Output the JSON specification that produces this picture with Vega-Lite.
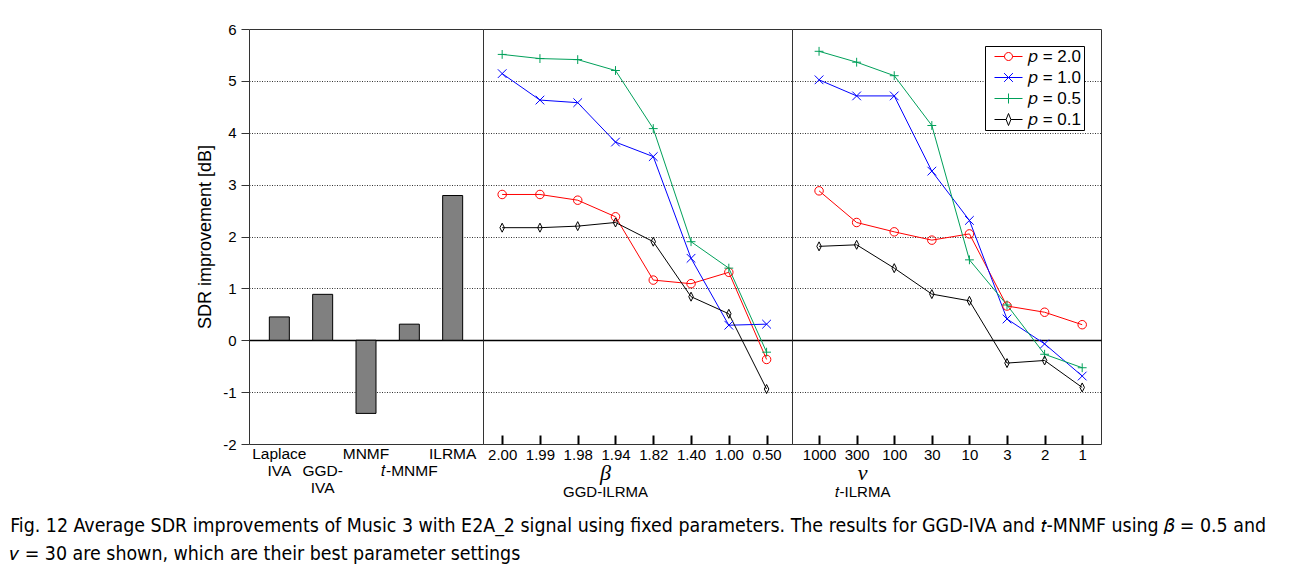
{
  "$schema": "https://vega.github.io/schema/vega-lite/v6.json",
  "background": "white",
  "padding": {"left": 10, "top": 21, "right": 5, "bottom": 5},
  "spacing": 0,
  "bounds": "flush",
  "datasets": {
    "bars": [
      {"method": "Laplace IVA", "sdr": 0.45},
      {"method": "GGD-IVA", "sdr": 0.885},
      {"method": "MNMF", "sdr": -1.41},
      {"method": "t-MNMF", "sdr": 0.31},
      {"method": "ILRMA", "sdr": 2.79}
    ],
    "ggd": [
      {"p": "2.0", "i": 0, "beta": "2.00", "sdr": 2.81},
      {"p": "2.0", "i": 1, "beta": "1.99", "sdr": 2.81},
      {"p": "2.0", "i": 2, "beta": "1.98", "sdr": 2.70},
      {"p": "2.0", "i": 3, "beta": "1.94", "sdr": 2.38},
      {"p": "2.0", "i": 4, "beta": "1.82", "sdr": 1.16},
      {"p": "2.0", "i": 5, "beta": "1.40", "sdr": 1.09},
      {"p": "2.0", "i": 6, "beta": "1.00", "sdr": 1.31},
      {"p": "2.0", "i": 7, "beta": "0.50", "sdr": -0.37},
      {"p": "1.0", "i": 0, "beta": "2.00", "sdr": 5.14},
      {"p": "1.0", "i": 1, "beta": "1.99", "sdr": 4.63},
      {"p": "1.0", "i": 2, "beta": "1.98", "sdr": 4.58},
      {"p": "1.0", "i": 3, "beta": "1.94", "sdr": 3.82},
      {"p": "1.0", "i": 4, "beta": "1.82", "sdr": 3.54},
      {"p": "1.0", "i": 5, "beta": "1.40", "sdr": 1.58},
      {"p": "1.0", "i": 6, "beta": "1.00", "sdr": 0.29},
      {"p": "1.0", "i": 7, "beta": "0.50", "sdr": 0.31},
      {"p": "0.5", "i": 0, "beta": "2.00", "sdr": 5.51},
      {"p": "0.5", "i": 1, "beta": "1.99", "sdr": 5.43},
      {"p": "0.5", "i": 2, "beta": "1.98", "sdr": 5.41},
      {"p": "0.5", "i": 3, "beta": "1.94", "sdr": 5.20},
      {"p": "0.5", "i": 4, "beta": "1.82", "sdr": 4.08},
      {"p": "0.5", "i": 5, "beta": "1.40", "sdr": 1.90},
      {"p": "0.5", "i": 6, "beta": "1.00", "sdr": 1.39},
      {"p": "0.5", "i": 7, "beta": "0.50", "sdr": -0.23},
      {"p": "0.1", "i": 0, "beta": "2.00", "sdr": 2.17},
      {"p": "0.1", "i": 1, "beta": "1.99", "sdr": 2.17},
      {"p": "0.1", "i": 2, "beta": "1.98", "sdr": 2.20},
      {"p": "0.1", "i": 3, "beta": "1.94", "sdr": 2.27},
      {"p": "0.1", "i": 4, "beta": "1.82", "sdr": 1.90},
      {"p": "0.1", "i": 5, "beta": "1.40", "sdr": 0.84},
      {"p": "0.1", "i": 6, "beta": "1.00", "sdr": 0.51},
      {"p": "0.1", "i": 7, "beta": "0.50", "sdr": -0.94}
    ],
    "tdist": [
      {"p": "2.0", "i": 0, "nu": "1000", "sdr": 2.88},
      {"p": "2.0", "i": 1, "nu": "300", "sdr": 2.27},
      {"p": "2.0", "i": 2, "nu": "100", "sdr": 2.09},
      {"p": "2.0", "i": 3, "nu": "30", "sdr": 1.93},
      {"p": "2.0", "i": 4, "nu": "10", "sdr": 2.05},
      {"p": "2.0", "i": 5, "nu": "3", "sdr": 0.66},
      {"p": "2.0", "i": 6, "nu": "2", "sdr": 0.54},
      {"p": "2.0", "i": 7, "nu": "1", "sdr": 0.30},
      {"p": "1.0", "i": 0, "nu": "1000", "sdr": 5.02},
      {"p": "1.0", "i": 1, "nu": "300", "sdr": 4.71},
      {"p": "1.0", "i": 2, "nu": "100", "sdr": 4.71},
      {"p": "1.0", "i": 3, "nu": "30", "sdr": 3.26},
      {"p": "1.0", "i": 4, "nu": "10", "sdr": 2.31},
      {"p": "1.0", "i": 5, "nu": "3", "sdr": 0.41},
      {"p": "1.0", "i": 6, "nu": "2", "sdr": -0.07},
      {"p": "1.0", "i": 7, "nu": "1", "sdr": -0.69},
      {"p": "0.5", "i": 0, "nu": "1000", "sdr": 5.57},
      {"p": "0.5", "i": 1, "nu": "300", "sdr": 5.36},
      {"p": "0.5", "i": 2, "nu": "100", "sdr": 5.10},
      {"p": "0.5", "i": 3, "nu": "30", "sdr": 4.14},
      {"p": "0.5", "i": 4, "nu": "10", "sdr": 1.55},
      {"p": "0.5", "i": 5, "nu": "3", "sdr": 0.68},
      {"p": "0.5", "i": 6, "nu": "2", "sdr": -0.27},
      {"p": "0.5", "i": 7, "nu": "1", "sdr": -0.53},
      {"p": "0.1", "i": 0, "nu": "1000", "sdr": 1.81},
      {"p": "0.1", "i": 1, "nu": "300", "sdr": 1.84},
      {"p": "0.1", "i": 2, "nu": "100", "sdr": 1.39},
      {"p": "0.1", "i": 3, "nu": "30", "sdr": 0.89},
      {"p": "0.1", "i": 4, "nu": "10", "sdr": 0.76},
      {"p": "0.1", "i": 5, "nu": "3", "sdr": -0.44},
      {"p": "0.1", "i": 6, "nu": "2", "sdr": -0.39},
      {"p": "0.1", "i": 7, "nu": "1", "sdr": -0.91}
    ]
  },
  "title": {
    "text": ["Fig. 12 Average SDR improvements of Music 3 with E2A_2 signal using fixed parameters. The results for GGD-IVA and 𝑡-MNMF using 𝛽 = 0.5 and", "𝜈 = 30 are shown, which are their best parameter settings"],
    "orient": "bottom",
    "anchor": "start",
    "frame": "bounds",
    "dx": -186,
    "offset": 16,
    "font": "Liberation Sans Narrow, DejaVu Sans Condensed, Liberation Sans",
    "fontSize": 19.4,
    "fontWeight": "normal",
    "color": "black",
    "lineHeight": 28
  },
  "hconcat": [
    {
      "width": 234,
      "height": 415,
      "data": {"name": "bars"},
      "mark": {"type": "bar", "fill": "#808080", "stroke": "black", "strokeWidth": 1, "width": 20},
      "encoding": {
        "x": {
          "field": "method", "type": "nominal", "sort": null,
          "scale": {"paddingInner": 0.54, "paddingOuter": 0.47},
          "axis": {
            "title": null, "labelAngle": 0, "ticks": false, "domain": false,
            "labelPadding": 2, "labelFontSize": 15.5, "labelLineHeight": 17,
            "labelExpr": "datum.value == 'Laplace IVA' ? ['Laplace', 'IVA'] : datum.value == 'GGD-IVA' ? [' ', 'GGD-', 'IVA'] : datum.value == 't-MNMF' ? [' ', '𝑡-MNMF'] : datum.value"
          }
        },
        "y": {
          "field": "sdr", "type": "quantitative",
          "scale": {"domain": [-2, 6], "nice": false},
          "axis": {
            "title": "SDR improvement [dB]", "titleFontSize": 18, "titleFontWeight": "normal", "titlePadding": 8,
            "values": [-2, -1, 0, 1, 2, 3, 4, 5, 6],
            "labelExpr": "toString(datum.value)",
            "tickSize": 8, "tickColor": "#333", "labelPadding": 5, "labelFontSize": 15, "domain": false,
            "grid": true,
            "gridColor": {"condition": {"test": "datum.value === 0", "value": "black"}, "value": "#333"},
            "gridDash": {"condition": {"test": "datum.value === 0", "value": []}, "value": [1, 1.5]},
            "gridWidth": {"condition": {"test": "datum.value === 0", "value": 1.5}, "value": 1},
            "gridOpacity": {"condition": {"test": "datum.value === 6 || datum.value === -2", "value": 0}, "value": 1}
          }
        }
      }
    },
    {
      "width": 309,
      "height": 415,
      "data": {"name": "ggd"},
      "title": {
        "text": "β", "subtitle": "GGD-ILRMA", "orient": "bottom", "anchor": "middle", "dx": -32, "offset": 1,
        "font": "Liberation Serif", "fontStyle": "italic", "fontSize": 22, "fontWeight": "normal", "color": "black",
        "subtitleFont": "Liberation Sans", "subtitleFontSize": 15, "subtitleColor": "black", "subtitlePadding": 0
      },
      "encoding": {
        "x": {
          "field": "beta", "type": "ordinal", "sort": null,
          "scale": {"type": "point", "padding": 0.59, "align": 0.43},
          "axis": {"title": null, "labelAngle": 0, "domain": false, "tickSize": -9, "tickWidth": 2, "tickColor": "black", "labelPadding": 12, "labelFontSize": 15}
        },
        "y": {
          "field": "sdr", "type": "quantitative",
          "scale": {"domain": [-2, 6], "nice": false},
          "axis": {
            "title": null, "labels": false, "ticks": false, "domain": false,
            "values": [-2, -1, 0, 1, 2, 3, 4, 5, 6],
            "grid": true,
            "gridColor": {"condition": {"test": "datum.value === 0", "value": "black"}, "value": "#333"},
            "gridDash": {"condition": {"test": "datum.value === 0", "value": []}, "value": [1, 1.5]},
            "gridWidth": {"condition": {"test": "datum.value === 0", "value": 1.5}, "value": 1},
            "gridOpacity": {"condition": {"test": "datum.value === 6 || datum.value === -2", "value": 0}, "value": 1}
          }
        },
        "color": {"field": "p", "type": "nominal", "scale": {"domain": ["2.0", "1.0", "0.5", "0.1"], "range": ["#ff0000", "#0000ff", "#00a05a", "#000000"]}, "legend": null}
      },
      "layer": [
        {"mark": {"type": "line", "strokeWidth": 1}, "encoding": {"order": {"field": "i", "type": "quantitative"}}},
        {
          "mark": {"type": "point", "filled": false, "strokeWidth": 1, "opacity": 1},
          "encoding": {
            "shape": {"field": "p", "type": "nominal", "scale": {"domain": ["2.0", "1.0", "0.5", "0.1"], "range": ["circle", "M-1,-1L1,1M-1,1L1,-1", "M-1,0L1,0M0,-1L0,1", "M0,-1L0.5,0L0,1L-0.5,0Z"]}, "legend": null},
            "size": {"field": "p", "type": "ordinal", "scale": {"domain": ["2.0", "1.0", "0.5", "0.1"], "range": [72, 81, 100, 121]}, "legend": null}
          }
        }
      ]
    },
    {
      "width": 309,
      "height": 415,
      "data": {"name": "tdist"},
      "title": {
        "text": "ν", "subtitle": "𝑡-ILRMA", "orient": "bottom", "anchor": "middle", "dx": -84, "offset": 1,
        "font": "Liberation Serif", "fontStyle": "italic", "fontSize": 22, "fontWeight": "normal", "color": "black",
        "subtitleFont": "Liberation Sans", "subtitleFontSize": 15, "subtitleColor": "black", "subtitlePadding": 0
      },
      "encoding": {
        "x": {
          "field": "nu", "type": "ordinal", "sort": null,
          "scale": {"type": "point", "padding": 0.61, "align": 0.59},
          "axis": {"title": null, "labelAngle": 0, "domain": false, "tickSize": -9, "tickWidth": 2, "tickColor": "black", "labelPadding": 12, "labelFontSize": 15}
        },
        "y": {
          "field": "sdr", "type": "quantitative",
          "scale": {"domain": [-2, 6], "nice": false},
          "axis": {
            "title": null, "labels": false, "ticks": false, "domain": false,
            "values": [-2, -1, 0, 1, 2, 3, 4, 5, 6],
            "grid": true,
            "gridColor": {"condition": {"test": "datum.value === 0", "value": "black"}, "value": "#333"},
            "gridDash": {"condition": {"test": "datum.value === 0", "value": []}, "value": [1, 1.5]},
            "gridWidth": {"condition": {"test": "datum.value === 0", "value": 1.5}, "value": 1},
            "gridOpacity": {"condition": {"test": "datum.value === 6 || datum.value === -2", "value": 0}, "value": 1}
          }
        },
        "color": {"field": "p", "type": "nominal", "scale": {"domain": ["2.0", "1.0", "0.5", "0.1"], "range": ["#ff0000", "#0000ff", "#00a05a", "#000000"]}, "legend": null}
      },
      "layer": [
        {
          "mark": {"type": "line", "strokeWidth": 1},
          "encoding": {"order": {"field": "i", "type": "quantitative"}}
        },
        {
          "mark": {"type": "point", "filled": false, "strokeWidth": 1, "opacity": 1},
          "encoding": {
            "shape": {"field": "p", "type": "nominal", "scale": {"domain": ["2.0", "1.0", "0.5", "0.1"], "range": ["circle", "M-1,-1L1,1M-1,1L1,-1", "M-1,0L1,0M0,-1L0,1", "M0,-1L0.5,0L0,1L-0.5,0Z"]}, "legend": null},
            "size": {"field": "p", "type": "ordinal", "scale": {"domain": ["2.0", "1.0", "0.5", "0.1"], "range": [72, 81, 100, 121]}, "legend": null}
          }
        },
        {
          "transform": [{"filter": "false"}],
          "mark": {"type": "point", "filled": false, "strokeWidth": 1, "opacity": 1},
          "encoding": {
            "color": {"value": "black"},
            "stroke": {
              "field": "p", "type": "nominal",
              "scale": {"domain": ["2.0", "1.0", "0.5", "0.1"], "range": ["#ff0000", "#0000ff", "#00a05a", "#000000"]},
              "legend": {"title": null, "orient": "top-right", "offset": 17, "strokeColor": "black", "fillColor": "white", "padding": 2, "labelFont": "Liberation Sans", "labelFontSize": 17, "labelColor": "black", "symbolSize": 64, "symbolStrokeWidth": 1, "rowPadding": 3, "symbolOffset": 13, "labelOffset": 11, "labelExpr": "'𝑝 = ' + datum.label + '   '"}
            },
            "shape": {
              "field": "p", "type": "nominal",
              "scale": {"domain": ["2.0", "1.0", "0.5", "0.1"], "range": ["M-3.5,0L-1,0A1,1,0,1,1,1,0A1,1,0,1,1,-1,0M1,0L3.5,0", "M-3.5,0L3.5,0M-1.1,-1.1L1.1,1.1M-1.1,1.1L1.1,-1.1", "M-3.5,0L3.5,0M0,-1.25L0,1.25", "M-3.5,0L-0.6,0M0.6,0L3.5,0M0,-1.5L0.6,0L0,1.5L-0.6,0Z"]},
              "legend": {"title": null, "orient": "top-right", "offset": 17, "strokeColor": "black", "fillColor": "white", "padding": 2, "labelFont": "Liberation Sans", "labelFontSize": 17, "labelColor": "black", "symbolSize": 64, "symbolStrokeWidth": 1, "rowPadding": 3, "symbolOffset": 13, "labelOffset": 11, "labelExpr": "'𝑝 = ' + datum.label + '   '"}
            }
          }
        }
      ],
      "resolve": {"scale": {"shape": "independent", "stroke": "independent"}}
    }
  ],
  "config": {
    "font": "Liberation Sans",
    "view": {"stroke": "#333", "strokeWidth": 1},
    "axis": {"labelFont": "Liberation Sans", "titleFont": "Liberation Sans", "labelColor": "black", "titleColor": "black"}
  }
}
